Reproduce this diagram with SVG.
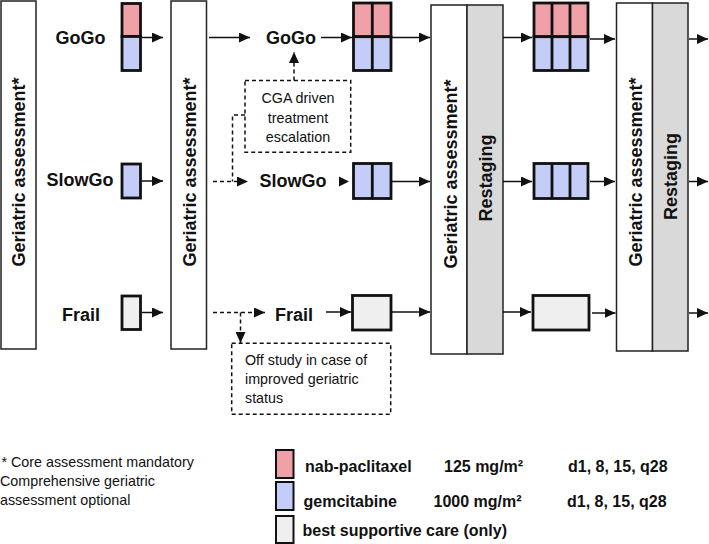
<svg xmlns="http://www.w3.org/2000/svg" width="709" height="544" viewBox="0 0 709 544">
<defs>
<style>
.big{fill:#fff;stroke:#222;stroke-width:1.5}
.rs{fill:#d9d9d9;stroke:#222;stroke-width:1.5}
.red{fill:#f0a1a8;stroke:#111;stroke-width:2.8}
.blue{fill:#c4cdf7;stroke:#111;stroke-width:2.8}
.gry{fill:#efefef;stroke:#111;stroke-width:2.8}
.div{stroke:#111;stroke-width:2.8}
.lg{stroke-width:2}
.vt{font-family:"Liberation Sans",Arial,sans-serif;font-weight:bold;font-size:18px;fill:#111;text-anchor:middle}
.lab{font-family:"Liberation Sans",Arial,sans-serif;font-weight:bold;font-size:18px;fill:#111;text-anchor:middle}
.note{font-family:"Liberation Sans",Arial,sans-serif;font-size:14.3px;fill:#111}
.leg{font-family:"Liberation Sans",Arial,sans-serif;font-weight:bold;font-size:16px;fill:#111}
.ar{fill:none;stroke:#111;stroke-width:1.5}
.da{fill:none;stroke:#111;stroke-width:1.5;stroke-dasharray:4 3}
.db{fill:#fff;stroke:#111;stroke-width:1.5;stroke-dasharray:4 3}
</style>
<marker id="ah" markerUnits="userSpaceOnUse" markerWidth="11" markerHeight="10" refX="11" refY="5" orient="auto">
<path d="M0,0 L11,5 L0,10 z" fill="#111"/>
</marker>
</defs>

<g id="ga1"><rect class="big" x="1" y="1" width="35" height="348"/><text class="vt" transform="translate(25,172) rotate(-90)">Geriatric assessment*</text></g>
<g id="ga2"><rect class="big" x="171" y="1" width="35.5" height="348"/><text class="vt" transform="translate(196,172) rotate(-90)">Geriatric assessment*</text></g>
<g id="ga3"><rect class="big" x="431" y="5" width="36" height="349"/><rect class="rs" x="467" y="5" width="36" height="349"/><text class="vt" transform="translate(457,174) rotate(-90)">Geriatric assessment*</text><text class="vt" transform="translate(491.5,178) rotate(-90)">Restaging</text></g>
<g id="ga4"><rect class="big" x="616.5" y="3" width="36" height="348"/><rect class="rs" x="652.5" y="3" width="35.5" height="348"/><text class="vt" transform="translate(641.5,172) rotate(-90)">Geriatric assessment*</text><text class="vt" transform="translate(677,176.5) rotate(-90)">Restaging</text></g>

<g id="lab1"><text class="lab" x="80.5" y="43.5">GoGo</text><text class="lab" x="80" y="186">SlowGo</text><text class="lab" x="81" y="321">Frail</text></g>
<g id="lab2"><text class="lab" x="291" y="43.5">GoGo</text><text class="lab" x="293" y="187">SlowGo</text><text class="lab" x="294" y="321">Frail</text></g>

<g id="c1gogo"><rect class="red" x="122" y="3.5" width="18.5" height="33"/><rect class="blue" x="122" y="36.5" width="18.5" height="34"/></g>
<g id="c1slow"><rect class="blue" x="122" y="164" width="18.5" height="34"/></g>
<g id="c1frail"><rect class="gry" x="122" y="296" width="18.5" height="33.5"/></g>

<g id="c2gogo"><rect class="red" x="353.5" y="3" width="37.5" height="33.7"/><rect class="blue" x="353.5" y="36.7" width="37.5" height="33.8"/><line class="div" x1="372.3" y1="3" x2="372.3" y2="70.5"/></g>
<g id="c2slow"><rect class="blue" x="353.5" y="163.5" width="37.5" height="35"/><line class="div" x1="372.3" y1="163.5" x2="372.3" y2="198.5"/></g>
<g id="c2frail"><rect class="gry" x="352.5" y="295.5" width="38.5" height="34.5"/></g>

<g id="c3gogo"><rect class="red" x="534" y="3" width="54" height="33.7"/><rect class="blue" x="534" y="36.7" width="54" height="33.8"/><line class="div" x1="552" y1="3" x2="552" y2="70.5"/><line class="div" x1="570" y1="3" x2="570" y2="70.5"/></g>
<g id="c3slow"><rect class="blue" x="534" y="163.5" width="54" height="35"/><line class="div" x1="552" y1="163.5" x2="552" y2="198.5"/><line class="div" x1="570" y1="163.5" x2="570" y2="198.5"/></g>
<g id="c3frail"><rect class="gry" x="533" y="295.5" width="56" height="34.5"/></g>

<g id="cga"><rect class="db" x="245" y="80.5" width="105.7" height="71.8"/><text class="note" x="298" y="102.5" text-anchor="middle">CGA driven</text><text class="note" x="298" y="122.5" text-anchor="middle">treatment</text><text class="note" x="298" y="141.5" text-anchor="middle">escalation</text></g>
<g id="offstudy"><rect class="db" x="231.7" y="343.3" width="159" height="71"/><text class="note" x="245" y="365">Off study in case of</text><text class="note" x="245" y="384">improved geriatric</text><text class="note" x="245" y="403">status</text></g>

<g id="connectors">
<line class="ar" x1="142" y1="37.5" x2="163" y2="37.5" marker-end="url(#ah)"/>
<line class="ar" x1="209" y1="37.5" x2="250" y2="37.5" marker-end="url(#ah)"/>
<line class="ar" x1="321" y1="37.5" x2="352" y2="37.5" marker-end="url(#ah)"/>
<line class="ar" x1="392" y1="37.5" x2="430" y2="37.5" marker-end="url(#ah)"/>
<line class="ar" x1="503" y1="37.5" x2="532" y2="37.5" marker-end="url(#ah)"/>
<line class="ar" x1="590" y1="39" x2="615" y2="39" marker-end="url(#ah)"/>
<line class="ar" x1="689" y1="39" x2="708" y2="39" marker-end="url(#ah)"/>

<line class="ar" x1="142" y1="181" x2="163" y2="181" marker-end="url(#ah)"/>
<line class="da" x1="213" y1="181.5" x2="248" y2="181.5" marker-end="url(#ah)"/>
<path d="M339,176.5 L349,181.5 L339,186.5 z" fill="#111"/>
<line class="ar" x1="392" y1="181.5" x2="430" y2="181.5" marker-end="url(#ah)"/>
<line class="ar" x1="503" y1="181.5" x2="532" y2="181.5" marker-end="url(#ah)"/>
<line class="ar" x1="590" y1="181.5" x2="615" y2="181.5" marker-end="url(#ah)"/>
<line class="ar" x1="689" y1="181.5" x2="708" y2="181.5" marker-end="url(#ah)"/>

<line class="ar" x1="142" y1="312.5" x2="163" y2="312.5" marker-end="url(#ah)"/>
<line class="da" x1="213" y1="312.5" x2="265" y2="312.5" marker-end="url(#ah)"/>
<line class="da" x1="240.5" y1="312.5" x2="240.5" y2="343" marker-end="url(#ah)"/>
<line class="ar" x1="326" y1="312" x2="351" y2="312" marker-end="url(#ah)"/>
<line class="ar" x1="392" y1="312" x2="430" y2="312" marker-end="url(#ah)"/>
<line class="ar" x1="503" y1="312" x2="531" y2="312" marker-end="url(#ah)"/>
<line class="ar" x1="592" y1="313" x2="615.5" y2="313" marker-end="url(#ah)"/>
<line class="ar" x1="689" y1="313" x2="708" y2="313" marker-end="url(#ah)"/>

<line class="da" x1="294" y1="80.5" x2="294" y2="52" marker-end="url(#ah)"/>
<path class="da" d="M245,115 L232.5,115 L232.5,181.5"/>
</g>

<g id="footnote"><text class="note" x="1.5" y="467">* Core assessment mandatory</text><text class="note" x="0" y="486">Comprehensive geriatric</text><text class="note" x="0" y="504.5">assessment optional</text></g>

<g id="legend">
<rect class="red lg" x="276" y="450" width="17.5" height="28"/>
<rect class="blue lg" x="276" y="482" width="17.5" height="28"/>
<rect class="gry lg" x="276" y="516" width="17.5" height="27"/>
<text class="leg" x="305" y="472">nab-paclitaxel</text>
<text class="leg" x="444" y="472">125 mg/m²</text>
<text class="leg" x="568" y="472">d1, 8, 15, q28</text>
<text class="leg" x="303.5" y="506.5">gemcitabine</text>
<text class="leg" x="433.5" y="506.5">1000 mg/m²</text>
<text class="leg" x="567" y="506.5">d1, 8, 15, q28</text>
<text class="leg" x="302.5" y="535.5">best supportive care (only)</text>
</g>
</svg>
